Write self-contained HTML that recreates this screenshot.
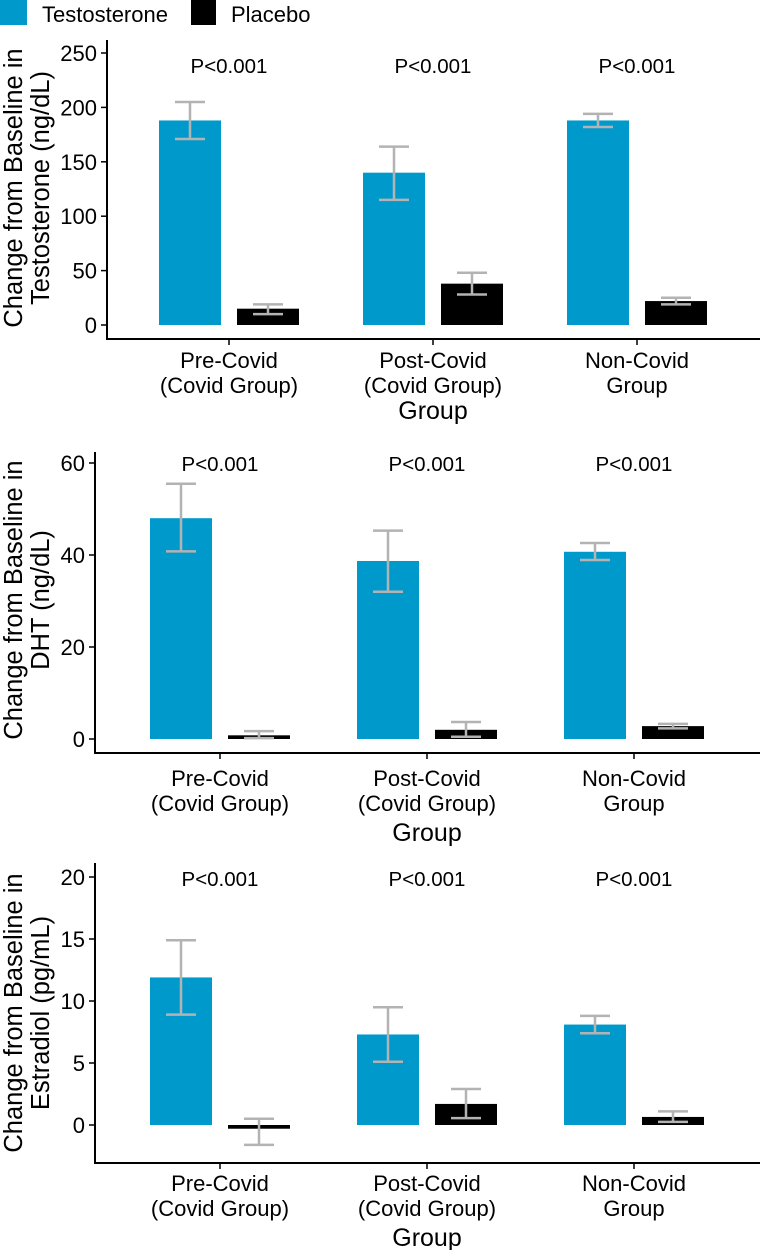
<!DOCTYPE html>
<html><head><meta charset="utf-8">
<style>
html,body{margin:0;padding:0;background:#fff;}
svg{display:block;font-family:"Liberation Sans",Arial,sans-serif;}
</style></head>
<body>
<svg id="fig" width="760" height="1250" viewBox="0 0 760 1250" xmlns="http://www.w3.org/2000/svg">
  <g>
    <rect x="0" y="0" width="27" height="25" fill="#0099CC"/>
    <text x="42" y="22" font-size="22">Testosterone</text>
    <rect x="191" y="0" width="25" height="25" fill="#000"/>
    <text x="231" y="22" font-size="22">Placebo</text>
  </g>
</svg>
<script>
const categories = [["Pre-Covid","(Covid Group)"],["Post-Covid","(Covid Group)"],["Non-Covid","Group"]];
const pLabels = ["P<0.001","P<0.001","P<0.001"];

const testoT = [188, 140, 188];
const testoTLo = [171, 115, 182];
const testoTHi = [205, 164, 194];
const testoP = [15, 38, 22];
const testoPLo = [10, 28, 19];
const testoPHi = [19, 48, 25];
const testoTicks = [0, 50, 100, 150, 200, 250];

const dhtT = [48, 38.7, 40.7];
const dhtTLo = [40.8, 32, 38.9];
const dhtTHi = [55.5, 45.3, 42.6];
const dhtP = [0.8, 2, 2.8];
const dhtPLo = [0.2, 0.5, 2.3];
const dhtPHi = [1.7, 3.7, 3.3];
const dhtTicks = [0, 20, 40, 60];

const estT = [11.9, 7.3, 8.1];
const estTLo = [8.9, 5.1, 7.4];
const estTHi = [14.9, 9.5, 8.8];
const estP = [-0.3, 1.7, 0.65];
const estPLo = [-1.6, 0.55, 0.25];
const estPHi = [0.5, 2.9, 1.1];
const estTicks = [0, 5, 10, 15, 20];

const NS = "http://www.w3.org/2000/svg";
const svg = document.getElementById("fig");
function el(tag, attrs, parent, txt){
  const e = document.createElementNS(NS, tag);
  for (const k in attrs) e.setAttribute(k, attrs[k]);
  if (txt !== undefined) e.textContent = txt;
  parent.appendChild(e);
  return e;
}

function panel(cfg){
  const g = el("g", {}, svg);
  
  
  const y = v => cfg.y0 - (v) * (cfg.y0 - cfg.yTop) / cfg.tMax;
  const xc = i => cfg.c0 + i * cfg.step;
  const ya = el("line", {x1:cfg.ax, x2:cfg.ax, y1:cfg.axTop, y2:cfg.axBot+1, stroke:"#000","stroke-width":2}, g);
  
  
  const xa = el("line", {x1:cfg.ax-1, x2:760, y1:cfg.axBot, y2:cfg.axBot, stroke:"#000","stroke-width":2}, g);
  
  
  cfg.ticks.forEach(t => {
    const tk = el("line", {x1:cfg.ax-6, x2:cfg.ax, y1:y(t), y2:y(t), stroke:"#000","stroke-width":1.5}, g);
    
    
    const tl = el("text", {x:cfg.ax-10, y:y(t)+8, "font-size":22, "text-anchor":"end"}, g, String(t));
    
    
  });
  const tt = el("text", {transform:`translate(${cfg.titleX},${cfg.titleY}) rotate(-90)`, "font-size":25.5, "text-anchor":"middle"}, g);
  
  
  el("tspan", {x:0, y:0}, tt, "Change from Baseline in");
  el("tspan", {x:0, y:27}, tt, cfg.title2);
  categories.forEach((cat, i) => {
    const c = xc(i);
    const tk = el("line", {x1:c, x2:c, y1:cfg.axBot, y2:cfg.axBot+6, stroke:"#000","stroke-width":1.5}, g);
    
    
    const l1 = el("text", {x:c, y:cfg.lab1, "font-size":22, "text-anchor":"middle"}, g, cat[0]);
    
    
    const l2 = el("text", {x:c, y:cfg.lab1+25, "font-size":22, "text-anchor":"middle"}, g, cat[1]);
    
    
    const pl = el("text", {x:c, y:cfg.pY, "font-size":20.5, "text-anchor":"middle"}, g, pLabels[i]);
    
    
    const series = [
      {v:cfg.T[i], lo:cfg.TLo[i], hi:cfg.THi[i], x0:c-70, col:"#0099CC", n:"bar-testosterone"},
      {v:cfg.P[i], lo:cfg.PLo[i], hi:cfg.PHi[i], x0:c+8, col:"#000", n:"bar-placebo"}
    ];
    series.forEach(s => {
      const top = Math.min(y(s.v), y(0)), h = Math.abs(y(s.v) - y(0));
      const b = el("rect", {x:s.x0, y:top, width:62, height:Math.max(h,1), fill:s.col}, g);
      
      
      const mx = s.x0 + 31;
      const eb = el("path", {d:`M${mx-15},${y(s.hi)}H${mx+15}M${mx},${y(s.hi)}V${y(s.lo)}M${mx-15},${y(s.lo)}H${mx+15}`, stroke:"#B3B3B3", "stroke-width":2.5, fill:"none"}, g);
      
      
    });
  });
  const gt = el("text", {x:cfg.c0+cfg.step, y:cfg.groupY, "font-size":25, "text-anchor":"middle"}, g, "Group");
  
  
}

panel({name:"testosterone-panel", ax:107, axTop:40, axBot:339, y0:325, yTop:53, tMax:250,
  c0:229, step:204, ticks:testoTicks, T:testoT, TLo:testoTLo, THi:testoTHi, P:testoP, PLo:testoPLo, PHi:testoPHi,
  title2:"Testosterone (ng/dL)", titleX:22, titleY:188, lab1:368, pY:73, groupY:419});
panel({name:"dht-panel", ax:95, axTop:452, axBot:753, y0:739, yTop:463, tMax:60,
  c0:220, step:207, ticks:dhtTicks, T:dhtT, TLo:dhtTLo, THi:dhtTHi, P:dhtP, PLo:dhtPLo, PHi:dhtPHi,
  title2:"DHT (ng/dL)", titleX:22, titleY:600, lab1:786, pY:471, groupY:841});
panel({name:"estradiol-panel", ax:95, axTop:863, axBot:1163, y0:1125, yTop:877, tMax:20,
  c0:220, step:207, ticks:estTicks, T:estT, TLo:estTLo, THi:estTHi, P:estP, PLo:estPLo, PHi:estPHi,
  title2:"Estradiol (pg/mL)", titleX:22, titleY:1013, lab1:1191, pY:886, groupY:1246});
</script>
</body></html>
